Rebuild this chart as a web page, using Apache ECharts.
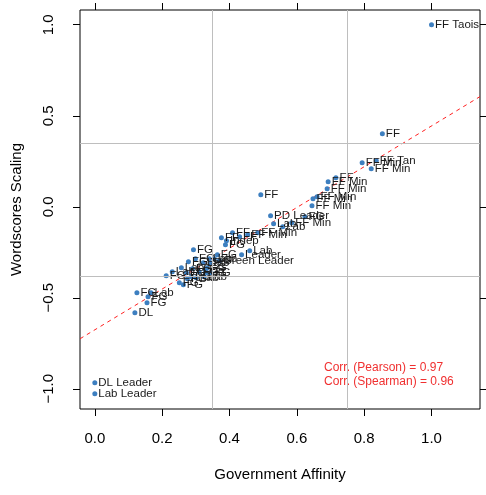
<!DOCTYPE html>
<html>
<head>
<meta charset="utf-8">
<script src="https://cdn.jsdelivr.net/npm/echarts@6/dist/echarts.min.js"></script>
<style>html,body{margin:0;padding:0;background:#fff}#c{width:486px;height:495px}</style>
</head>
<body>
<div id="c"></div>
<script>
// ---- data ----
const labels = ["FF Taois","FF","FF Min","FF Tan","FF Min","FF","FF Min","FF Min","FF Min","FF Min","FF Min","FF",
  "PD Leader","Lab","Lab","FF Min","FG","FF","FF","Indep","FG","FF","FF Min","FF Min","Lab","Leader","FG","FG","Green Leader",
  "FG","FG","Lab","FG","Lab","Lab","Lab","FG","FG","FG","FG","FG","FG","Lab","FG","FG","FG","FG","Lab","FG","Lab","FG",
  "FG","Lab","FG","FG","DL","DL Leader","Lab Leader"];
const govAffinity = [1.0,0.854,0.794,0.836,0.821,0.716,0.693,0.690,0.660,0.648,0.645,0.493,
  0.522,0.531,0.558,0.585,0.624,0.409,0.376,0.391,0.388,0.430,0.454,0.484,0.460,0.436,0.364,0.293,0.370,
  0.278,0.299,0.322,0.343,0.340,0.257,0.230,0.212,0.272,0.290,0.310,0.328,0.346,0.325,0.287,0.275,0.263,0.251,0.301,0.334,0.355,0.334,
  0.125,0.167,0.158,0.155,0.119,0.0,0.0];
const wordscores = [1.0,0.401,0.242,0.253,0.209,0.159,0.137,0.099,0.055,0.044,0.005,0.066,
  -0.049,-0.093,-0.110,-0.088,-0.055,-0.143,-0.170,-0.187,-0.209,-0.165,-0.154,-0.143,-0.242,-0.264,-0.264,-0.236,-0.297,
  -0.302,-0.286,-0.308,-0.308,-0.286,-0.335,-0.357,-0.379,-0.363,-0.341,-0.357,-0.346,-0.363,-0.385,-0.385,-0.396,-0.429,-0.418,-0.390,-0.363,-0.286,-0.335,
  -0.473,-0.473,-0.495,-0.527,-0.582,-0.967,-1.027];
const xTicks = [0, 0.2, 0.4, 0.6, 0.8, 1.0];
const xTickLabels = ["0.0","0.2","0.4","0.6","0.8","1.0"];
const yTicks = [-1, -0.5, 0, 0.5, 1];
const yTickLabels = ["\u22121.0","\u22120.5","0.0","0.5","1.0"];
const xRefLines = [0.35, 0.75];
const yRefLines = [-0.38, 0.35];
const fitIntercept = -0.676;
const fitSlope = 1.12;
const corrLines = ["Corr. (Pearson) = 0.97", "Corr. (Spearman) = 0.96"];
const X_MIN = -0.044, X_MAX = 1.144, Y_MIN = -1.111, Y_MAX = 1.081;

const pts = govAffinity.map((x, i) => [x, wordscores[i], labels[i]]);
const fitLine = [[X_MIN, fitIntercept + fitSlope * X_MIN], [X_MAX, fitIntercept + fitSlope * X_MAX]];
const fmt = (ticks, labs) => v => { const i = ticks.findIndex(t => Math.abs(t - v) < 1e-9); return i >= 0 ? labs[i] : ''; };
const FONT = 'Liberation Sans, Arial, sans-serif';

const chart = echarts.init(document.getElementById('c'), null, {renderer: 'canvas'});
chart.setOption({
  animation: false,
  backgroundColor: '#fff',
  textStyle: {fontFamily: FONT},
  grid: {left: 80, top: 10, right: 6, bottom: 86, show: true, borderColor: '#000', borderWidth: 1, backgroundColor: 'transparent'},
  xAxis: [
    {type: 'value', position: 'bottom', min: X_MIN, max: X_MAX,
     splitLine: {show: false}, axisLine: {show: false, onZero: false},
     axisTick: {show: true, length: 7, customValues: xTicks, lineStyle: {color: '#000'}},
     axisLabel: {customValues: xTicks, formatter: fmt(xTicks, xTickLabels), margin: 22, fontSize: 15, color: '#000', fontFamily: FONT},
     name: 'Government Affinity', nameLocation: 'middle', nameGap: 58,
     nameTextStyle: {fontSize: 15, color: '#000', fontFamily: FONT}},
    {type: 'value', position: 'top', min: X_MIN, max: X_MAX,
     splitLine: {show: false}, axisLine: {show: false, onZero: false},
     axisTick: {show: true, length: 7, customValues: xTicks, lineStyle: {color: '#000'}},
     axisLabel: {show: false}}
  ],
  yAxis: [
    {type: 'value', position: 'left', min: Y_MIN, max: Y_MAX,
     splitLine: {show: false}, axisLine: {show: false, onZero: false},
     axisTick: {show: true, length: 7, customValues: yTicks, lineStyle: {color: '#000'}},
     axisLabel: {customValues: yTicks, formatter: fmt(yTicks, yTickLabels), rotate: 90, margin: 24, fontSize: 15, color: '#000', fontFamily: FONT},
     name: 'Wordscores Scaling', nameLocation: 'middle', nameGap: 56, nameRotate: 90,
     nameTextStyle: {fontSize: 15, color: '#000', fontFamily: FONT}},
    {type: 'value', position: 'right', min: Y_MIN, max: Y_MAX,
     splitLine: {show: false}, axisLine: {show: false, onZero: false},
     axisTick: {show: true, length: 7, customValues: yTicks, lineStyle: {color: '#000'}},
     axisLabel: {show: false}}
  ],
  series: [
    {type: 'line', data: [], silent: true,
     markLine: {silent: true, symbol: 'none', animation: false, label: {show: false},
       lineStyle: {color: '#bebebe', width: 1, type: 'solid'},
       data: xRefLines.map(v => ({xAxis: v})).concat(yRefLines.map(v => ({yAxis: v})))}},
    {type: 'line', data: fitLine, symbol: 'none', silent: true, z: 3,
     lineStyle: {color: '#ff2020', width: 1, type: [4, 4]}},
    {type: 'scatter', data: pts, symbolSize: 5, z: 4,
     itemStyle: {color: '#3d7fc0', opacity: 1},
     label: {show: true, position: 'right', distance: 1, formatter: p => p.data[2],
       fontSize: 11.5, color: '#1a1a1a', fontFamily: FONT}}
  ],
  graphic: corrLines.map((t, i) => ({type: 'text', left: 324, top: 362 + i * 14,
    style: {text: t, fill: '#f03030', fontSize: 12, fontFamily: FONT}}))
});
</script>
</body>
</html>
